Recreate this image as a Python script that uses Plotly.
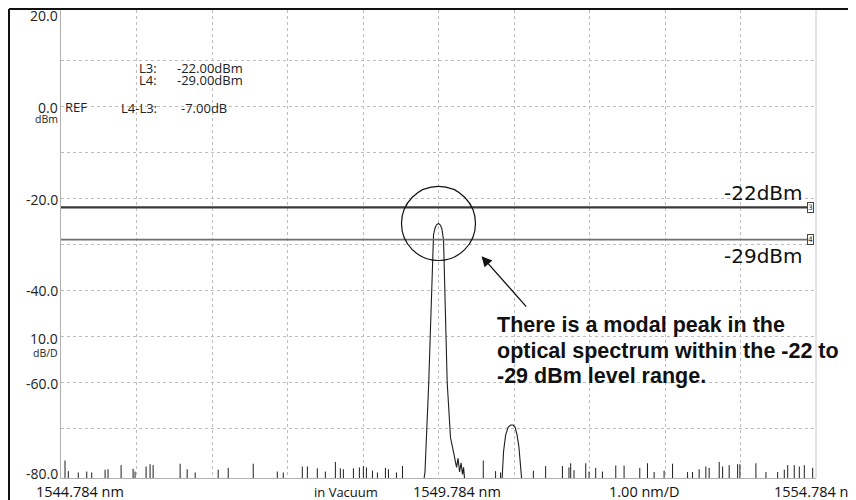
import plotly.graph_objects as go

# ---------------- data ----------------
x_start_nm = 1544.784
x_stop_nm = 1554.784
grid_nm = [1545.784, 1546.784, 1547.784, 1548.784, 1549.784,
           1550.784, 1551.784, 1552.784, 1553.784]
grid_dbm = [10, 0, -10, -20, -30, -40, -50, -60, -70]

y_tick_values = [20, 0, -20, -40, -50, -60, -80]
y_tick_labels = ["20.0", "0.0", "-20.0", "-40.0", "10.0", "-60.0", "-80.0"]
y_tick_units = {"0.0": "dBm", "10.0": "dB/D"}

bottom_labels = ["1544.784 nm", "in Vacuum", "1549.784 nm", "1.00 nm/D", "1554.784 nm"]

# main mode profile
mode_nm = [1549.592, 1549.605, 1549.655, 1549.701, 1549.718, 1549.738, 1549.758,
           1549.784, 1549.811, 1549.830, 1549.850, 1549.857, 1549.899, 1549.921,
           1549.943, 1549.987, 1550.023, 1550.043, 1550.063, 1550.083, 1550.102,
           1550.116, 1550.129]
mode_dbm = [-81, -79.5, -60, -33, -28, -26.5, -25.8,
            -25.5, -25.9, -26.8, -29, -33, -60, -66,
            -72, -75.5, -78.5, -76.5, -79.5, -77.5, -80,
            -78.5, -81]

# side mode profile
side_nm = [1550.626, 1550.646, 1550.673, 1550.706, 1550.739, 1550.772,
           1550.799, 1550.825, 1550.849, 1550.872, 1550.885]
side_dbm = [-81, -75, -71.5, -69.8, -69.3, -69.3, -69.8, -71.5, -74, -78, -81]

# noise floor spikes
floor_dbm = -81.0
noise_nm = [1544.837, 1544.881, 1545.013, 1545.125, 1545.191, 1545.368, 1545.407,
            1545.580, 1545.739, 1545.765, 1545.911, 1545.964, 1546.004, 1546.362,
            1546.455, 1546.561, 1546.866, 1546.999, 1547.330, 1547.649, 1547.728,
            1547.980, 1548.047, 1548.179, 1548.285, 1548.418, 1548.484, 1548.524,
            1548.657, 1548.736, 1548.789, 1548.829, 1548.909, 1548.975, 1549.081,
            1549.121, 1549.227, 1549.307, 1550.377, 1550.540, 1550.606, 1551.040,
            1551.203, 1551.425, 1551.512, 1551.535, 1551.579, 1551.734, 1551.778,
            1551.866, 1551.955, 1552.132, 1552.242, 1552.450, 1552.552, 1552.640,
            1552.772, 1552.884, 1553.083, 1553.149, 1553.236, 1553.325, 1553.369,
            1553.502, 1553.547, 1553.634, 1553.746, 1553.776, 1553.988, 1554.121,
            1554.276, 1554.364, 1554.409, 1554.496, 1554.563, 1554.629, 1554.740]
noise_dbm = [-77.0, -79.3, -79.6, -79.4, -79.6, -79.0, -78.9,
             -78.0, -78.8, -79.4, -78.3, -77.8, -78.0, -77.7,
             -78.9, -79.6, -79.0, -78.6, -77.7, -79.4, -79.6,
             -78.3, -78.3, -78.7, -79.4, -77.3, -78.7, -78.9,
             -78.7, -78.5, -78.2, -78.5, -79.2, -79.6, -78.6,
             -78.9, -79.6, -78.2, -77.0, -79.3, -79.6, -79.2,
             -78.2, -78.2, -78.5, -77.6, -79.1, -77.6, -79.4,
             -78.6, -79.4, -78.1, -78.1, -78.6, -77.6, -79.5,
             -79.2, -77.7, -79.5, -79.5, -78.9, -78.3, -78.6,
             -77.3, -78.3, -78.0, -77.8, -77.8, -77.6, -79.5,
             -79.5, -79.0, -78.0, -78.0, -78.3, -78.0, -78.6]

# level markers
marker_names = ["L3", "L4"]
marker_dbm = [-22.0, -29.0]
marker_ids = ["3", "4"]
marker_labels = ["-22dBm", "-29dBm"]

info_labels = ["L3:", "L4:", "L4-L3:"]
info_values = ["-22.00dBm", "-29.00dBm", "-7.00dB"]

note_lines = ["There is a modal peak in the",
              "optical spectrum within the -22 to",
              "-29 dBm level range."]

# ---------------- layout geometry ----------------
# the page body adds an 8px margin; the figure is sized to fill the rest
OFF = 8
W, H = 856 - OFF, 500 - OFF
L, R, T, B = 61 - OFF, 816 - OFF, 10 - OFF, 478 - OFF


def px(x):
    """reference window pixel x -> paper x"""
    return (x - OFF - L) / (R - L)


def py(y):
    """reference window pixel y -> paper y"""
    return (B - (y - OFF)) / (B - T)


FONT = "Open Sans"
TXT = "#222"
fig = go.Figure()

# noise stems
sx, sy = [], []
for w, v in zip(noise_nm, noise_dbm):
    sx += [w, w, None]
    sy += [floor_dbm, v, None]
fig.add_trace(go.Scatter(x=sx, y=sy, mode="lines",
                         line=dict(color="#1e1e1e", width=1), hoverinfo="skip"))
fig.add_trace(go.Scatter(x=mode_nm, y=mode_dbm, mode="lines",
                         line=dict(color="#1e1e1e", width=1.1), hoverinfo="skip"))
fig.add_trace(go.Scatter(x=side_nm, y=side_dbm, mode="lines",
                         line=dict(color="#1e1e1e", width=1.1), hoverinfo="skip"))

shapes = []
# level lines
for lvl, col, wd in zip(marker_dbm, ["#3a3a3a", "#707070"], [2.2, 1.8]):
    shapes.append(dict(type="line", xref="paper", yref="y", x0=0, x1=px(807),
                       y0=lvl, y1=lvl, line=dict(color=col, width=wd), layer="above"))
# right plot border
shapes.append(dict(type="line", xref="paper", yref="paper", x0=1, x1=1, y0=0, y1=1,
                   line=dict(color="#c8c8c8", width=1)))
# outer frame (top and left)
shapes.append(dict(type="line", xref="paper", yref="paper", x0=px(9), x1=px(870),
                   y0=py(9), y1=py(9), line=dict(color="#111", width=2)))
shapes.append(dict(type="line", xref="paper", yref="paper", x0=px(9), x1=px(9),
                   y0=py(9), y1=py(510), line=dict(color="#111", width=2)))
# circle around the peak
peak_i = mode_dbm.index(max(mode_dbm))
cx, cy = mode_nm[peak_i], mode_dbm[peak_i]
rx, ry = 0.49, 8.05
shapes.append(dict(type="circle", xref="x", yref="y", x0=cx - rx, x1=cx + rx,
                   y0=cy - ry, y1=cy + ry, line=dict(color="#111", width=1.2)))

ann = []
# y tick labels
ypos = {20: 16, 0: 107, -20: 199, -40: 290, -50: 338, -60: 383, -80: 473}
for v, lab in zip(y_tick_values, y_tick_labels):
    ann.append(dict(x=px(58.5), y=py(ypos[v]), xref="paper", yref="paper", text=lab,
                    showarrow=False, xanchor="right", yanchor="middle", borderpad=0,
                    font=dict(family=FONT, size=14, color=TXT)))
    if lab in y_tick_units:
        ann.append(dict(x=px(58.5), y=py(ypos[v] + 12 if lab == "0.0" else ypos[v] + 15),
                        xref="paper", yref="paper", text=y_tick_units[lab],
                        showarrow=False, xanchor="right", yanchor="middle", borderpad=0,
                        font=dict(family=FONT, size=10.5, color=TXT)))
ann.append(dict(x=px(63), y=py(107), xref="paper", yref="paper", text="REF",
                showarrow=False, xanchor="left", yanchor="middle",
                font=dict(family=FONT, size=13, color=TXT)))
# info block
info_y = [68, 80, 108]
info_vx = [176, 176, 180]
for lab, val, yy, vx in zip(info_labels, info_values, info_y, info_vx):
    ann.append(dict(x=px(157.5), y=py(yy), xref="paper", yref="paper", text=lab,
                    showarrow=False, xanchor="right", yanchor="middle", borderpad=0,
                    font=dict(family=FONT, size=13, color=TXT)))
    ann.append(dict(x=px(vx), y=py(yy), xref="paper", yref="paper", text=val,
                    showarrow=False, xanchor="left", yanchor="middle", borderpad=0,
                    font=dict(family=FONT, size=13, color=TXT)))
# bottom labels
bx = [35, 313, 412, 608, 773]
bsize = [14.5, 13, 14.5, 14.5, 14.5]
for lab, xx, fs in zip(bottom_labels, bx, bsize):
    ann.append(dict(x=px(xx), y=py(492), xref="paper", yref="paper", text=lab,
                    showarrow=False, xanchor="left", yanchor="middle", borderpad=0,
                    font=dict(family=FONT, size=fs, color="#111")))
# level labels and boxes
for lvl, lab, ident, ly in zip(marker_dbm, marker_labels, marker_ids, [193, 256]):
    ann.append(dict(x=px(805), y=py(ly), xref="paper", yref="paper", text=lab,
                    showarrow=False, xanchor="right", yanchor="middle",
                    font=dict(family="DejaVu Sans", size=20, color="#111")))
    ann.append(dict(x=px(810.5), y=lvl, xref="paper", yref="y", text=ident,
                    showarrow=False, xanchor="center", yanchor="middle",
                    font=dict(family="DejaVu Sans", size=7.5, color="#333"),
                    bordercolor="#444", borderwidth=1, borderpad=0, bgcolor="white"))
# arrow
ann.append(dict(x=1550.354, y=-32.6, ax=1550.964, ay=-43.9, xref="x", yref="y",
                axref="x", ayref="y", text="", showarrow=True, arrowhead=2,
                arrowsize=1.6, arrowwidth=1.3, arrowcolor="#111"))
# note, one annotation per line
for line, ly in zip(note_lines, [325, 350.5, 376]):
    ann.append(dict(x=px(496), y=py(ly), xref="paper", yref="paper",
                    text="<b>" + line + "</b>", showarrow=False,
                    xanchor="left", yanchor="middle", align="left", borderpad=0,
                    font=dict(family="Liberation Sans", size=21.5, color="#111")))

fig.update_layout(
    width=W, height=H, autosize=False,
    margin=dict(l=L, r=W - R, t=T, b=H - B),
    paper_bgcolor="white", plot_bgcolor="white",
    showlegend=False,
    shapes=shapes, annotations=ann,
    xaxis=dict(range=[x_start_nm, x_stop_nm], tickvals=grid_nm, showticklabels=False,
               ticks="", showgrid=True, gridcolor="#bdbdbd", griddash="3px,3px",
               gridwidth=1, showline=True, linecolor="#b0b0b0", linewidth=1,
               zeroline=False, fixedrange=True),
    yaxis=dict(range=[-80.8, 20.87], tickvals=grid_dbm, showticklabels=False,
               ticks="", showgrid=True, gridcolor="#bdbdbd", griddash="3px,3px",
               gridwidth=1, showline=True, linecolor="#b0b0b0", linewidth=1,
               zeroline=False, fixedrange=True),
)

fig.write_html("out.html")
